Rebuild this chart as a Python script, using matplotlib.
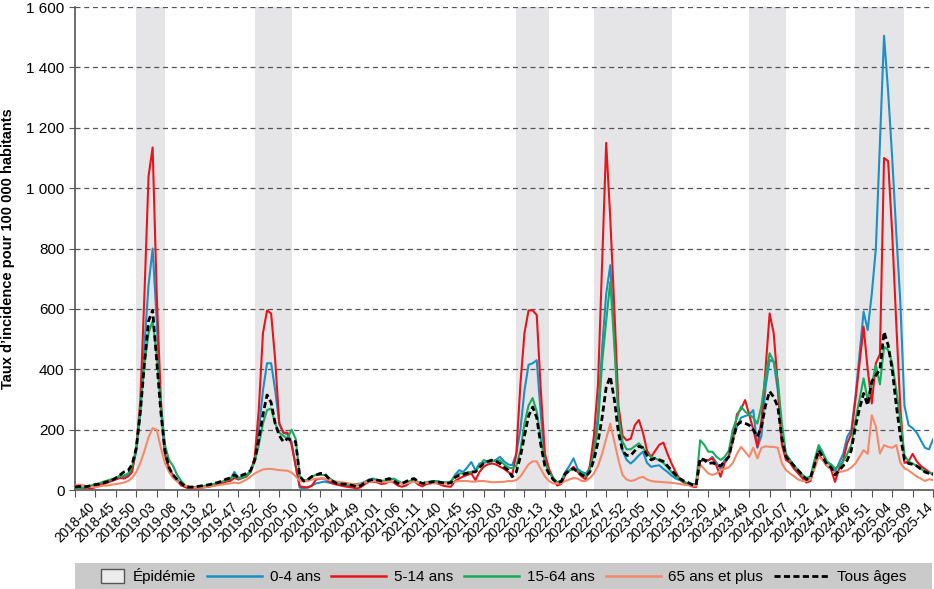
import matplotlib
matplotlib.use("Agg")
import matplotlib.pyplot as plt
from matplotlib.patches import Rectangle
from matplotlib.lines import Line2D
from matplotlib.legend_handler import HandlerPatch
from matplotlib.ticker import FuncFormatter

plt.rcParams['font.family'] = ['Liberation Sans Narrow', 'Liberation Sans', 'DejaVu Sans']

# seasons: (first year, last week of that year, last week of next year)
seasons = [(2018, 52, 15), (2019, 52, 15), (2020, 53, 15), (2021, 52, 20),
           (2022, 52, 20), (2023, 52, 15), (2024, 52, 19)]

epidemics = [("2019-03", "2019-10"), ("2020-04", "2020-13"), ("2022-11", "2022-19"),
             ("2022-49", "2023-16"), ("2024-02", "2024-11"), ("2024-52", "2025-12")]

# incidence per 100 000, one line per season
age_0_4 = [
    8, 9, 8, 10, 12, 15, 18, 22, 28, 32, 40, 48, 42, 50, 70, 130, 260, 480, 680, 800, 560, 270, 120, 70, 50, 35, 20, 10,
    5, 5, 6, 8, 10, 12, 15, 20, 25, 30, 35, 60, 40, 45, 50, 65, 100, 200, 330, 420, 420, 330, 220, 190, 185, 160, 80, 8,
    6, 10, 15, 22, 25, 28, 25, 22, 20, 18, 16, 15, 18, 20, 22, 28, 35, 38, 32, 30, 30, 35, 38, 30, 22, 22, 30, 36, 25,
    22, 25, 28, 30, 28, 25, 25, 28, 50, 66, 60, 75, 93, 65, 88, 90, 93, 95, 100, 110, 95, 85, 82, 120, 200, 330, 415, 420, 430, 250, 100, 60, 40,
    25, 30, 60, 80, 105, 70, 60, 55, 70, 130, 250, 470, 650, 745, 500, 250, 130, 100, 88, 100, 115, 127, 90, 77, 80, 82, 70, 60, 48, 38, 33, 26, 20,
    20, 18, 95, 100, 98, 110, 90, 70, 100, 110, 180, 210, 240, 245, 250, 265, 140, 180, 340, 431, 425, 330, 160, 110, 95, 80, 65, 50,
    35, 40, 90, 140, 120, 90, 85, 60, 90, 120, 177, 199, 309, 450, 591, 530, 650, 800, 1150, 1505, 1320, 1100, 850, 620, 280, 215, 205, 190, 165, 140, 135, 168,
]
age_5_14 = [
    10, 8, 6, 8, 5, 10, 15, 20, 25, 30, 35, 40, 38, 45, 60, 140, 300, 650, 1040, 1135, 650, 300, 120, 70, 45, 30, 15, 10,
    5, 6, 6, 8, 10, 12, 15, 18, 22, 28, 30, 40, 35, 40, 45, 60, 110, 270, 520, 595, 585, 430, 220, 190, 190, 150, 80, 12,
    10, 8, 15, 35, 38, 38, 30, 22, 18, 15, 12, 10, 8, 5, 10, 20, 28, 28, 25, 20, 22, 30, 25, 15, 11, 15, 25, 30, 18,
    12, 20, 22, 25, 20, 15, 12, 11, 30, 38, 45, 50, 55, 33, 60, 77, 85, 88, 85, 77, 70, 60, 50, 120, 350, 520, 595, 595, 580, 330, 120, 70, 40,
    15, 20, 50, 65, 77, 60, 45, 35, 80, 180, 350, 750, 1150, 900, 600, 280, 180, 165, 170, 215, 232, 190, 130, 110, 130, 150, 157, 120, 88, 60, 35, 25, 20,
    12, 10, 95, 100, 99, 105, 80, 44, 90, 110, 165, 251, 268, 298, 250, 200, 143, 230, 400, 585, 519, 350, 150, 100, 90, 70, 55, 40,
    25, 30, 80, 116, 100, 80, 70, 27, 70, 100, 155, 187, 298, 420, 541, 400, 287, 420, 450, 1100, 1090, 850, 550, 270, 90, 95, 120, 95, 80, 70, 60, 50,
]
age_15_64 = [
    5, 8, 8, 10, 15, 20, 22, 28, 32, 36, 40, 45, 48, 55, 80, 140, 270, 420, 520, 560, 450, 280, 150, 100, 80, 50, 30, 15,
    8, 10, 10, 12, 15, 18, 20, 25, 28, 32, 38, 45, 38, 42, 48, 60, 95, 150, 220, 265, 270, 220, 190, 180, 170, 200, 170, 45,
    30, 35, 45, 50, 50, 50, 42, 32, 25, 22, 20, 18, 18, 15, 18, 25, 32, 35, 33, 30, 32, 36, 36, 30, 22, 24, 30, 36, 25,
    22, 26, 28, 30, 28, 26, 25, 28, 45, 55, 55, 58, 60, 62, 80, 99, 95, 95, 97, 99, 85, 75, 72, 80, 130, 220, 280, 305, 260, 170, 90, 60, 40,
    25, 30, 55, 65, 70, 65, 55, 45, 70, 120, 220, 420, 560, 690, 480, 240, 160, 135, 135, 145, 155, 140, 120, 110, 105, 98, 90, 75, 60, 45, 35, 28, 22,
    20, 18, 165, 150, 127, 127, 110, 100, 110, 130, 200, 240, 276, 260, 250, 240, 220, 280, 375, 453, 425, 364, 220, 120, 100, 80, 65, 50,
    40, 45, 100, 149, 125, 95, 85, 72, 80, 95, 120, 150, 232, 300, 370, 298, 350, 413, 350, 475, 464, 420, 330, 230, 115, 95, 88, 80, 70, 62, 57, 55,
]
age_65_plus = [
    15, 18, 16, 12, 10, 10, 12, 15, 15, 18, 20, 22, 25, 30, 40, 60, 90, 130, 175, 205, 200, 140, 90, 60, 40, 28, 20, 15,
    10, 8, 8, 8, 10, 12, 14, 16, 18, 20, 22, 25, 22, 28, 35, 45, 55, 62, 68, 70, 70, 68, 66, 65, 64, 58, 45, 30,
    28, 30, 35, 38, 38, 36, 34, 30, 28, 26, 24, 22, 20, 18, 20, 25, 28, 30, 28, 26, 26, 28, 28, 25, 22, 22, 25, 28, 24,
    22, 24, 24, 22, 22, 22, 22, 24, 28, 30, 30, 30, 28, 28, 30, 30, 28, 26, 26, 27, 27, 30, 30, 33, 45, 65, 85, 95, 95, 70, 45, 30, 22,
    22, 22, 30, 35, 40, 38, 30, 30, 40, 55, 80, 120, 170, 220, 160, 100, 50, 35, 30, 33, 40, 44, 35, 30, 28, 27, 26, 25, 24, 22, 20, 18, 16,
    15, 14, 85, 70, 55, 50, 55, 66, 70, 75, 90, 120, 143, 127, 110, 140, 105, 140, 145, 143, 143, 140, 88, 66, 55, 45, 35, 30,
    30, 35, 70, 110, 100, 80, 70, 55, 60, 62, 66, 75, 88, 110, 132, 120, 248, 210, 121, 149, 143, 140, 149, 90, 72, 65, 55, 45, 38, 30, 36, 33,
]
all_ages = [
    10, 12, 10, 12, 15, 18, 20, 24, 28, 32, 40, 50, 60, 65, 85, 140, 260, 420, 560, 596, 430, 260, 130, 75, 50, 35, 22, 12,
    10, 10, 12, 14, 16, 18, 22, 25, 30, 36, 40, 50, 42, 50, 55, 65, 100, 170, 250, 315, 290, 220, 180, 160, 170, 165, 160, 45,
    30, 35, 45, 50, 55, 55, 40, 30, 22, 20, 20, 18, 15, 11, 15, 25, 32, 35, 33, 30, 35, 38, 30, 22, 22, 28, 35, 38, 28,
    22, 24, 26, 28, 26, 24, 22, 24, 42, 49, 52, 56, 60, 60, 75, 88, 95, 99, 95, 88, 75, 66, 44, 60, 110, 180, 245, 275, 240, 150, 80, 55, 35,
    25, 28, 55, 65, 71, 60, 50, 45, 60, 100, 160, 240, 340, 376, 300, 190, 130, 115, 115, 130, 145, 140, 115, 100, 105, 100, 95, 80, 65, 50, 38, 30, 25,
    18, 16, 105, 100, 88, 90, 85, 80, 95, 110, 165, 215, 226, 221, 215, 200, 177, 210, 280, 327, 308, 276, 170, 110, 95, 80, 65, 50,
    35, 40, 85, 132, 110, 85, 75, 50, 65, 80, 99, 132, 210, 270, 320, 281, 360, 380, 400, 524, 480, 400, 280, 180, 100, 88, 85, 80, 70, 60, 55, 53,
]

series = [
    ("0-4 ans", age_0_4, "#1b8fc6"),
    ("5-14 ans", age_5_14, "#e8141c"),
    ("15-64 ans", age_15_64, "#18ab5c"),
    ("65 ans et plus", age_65_plus, "#f5896a"),
]

weeks = []
for year, last, end in seasons:
    weeks += [f"{year}-{w:02d}" for w in range(40, last + 1)]
    weeks += [f"{year + 1}-{w:02d}" for w in range(1, end + 1)]
x = list(range(len(weeks)))

fig = plt.figure(figsize=(9.34, 5.89), dpi=100)
ax = fig.add_axes([0.0803, 0.168, 0.9187, 0.820])

for start, end in epidemics:
    ax.axvspan(weeks.index(start), weeks.index(end), color="#e5e5e7", lw=0, zorder=0)

for label, vals, col in series:
    ax.plot(x, vals, color=col, lw=1.5, label=label, zorder=3)
ax.plot(x, all_ages, color="black", lw=2.0, linestyle=(0, (2.2, 1.2)), label="Tous âges", zorder=4)

ax.set_xlim(0, len(weeks) - 1)
ax.set_ylim(0, 1600)
ax.set_yticks(range(0, 1601, 200))
ax.yaxis.set_major_formatter(FuncFormatter(lambda v, _: f"{int(v):,}".replace(",", " ")))
ax.grid(axis="y", color="#555555", lw=0.9, linestyle=(0, (4, 3)))
ax.set_axisbelow(True)

ticks = list(range(0, len(weeks), 5))
ax.set_xticks(ticks)
ax.set_xticklabels([weeks[t] if t <= 205 else "" for t in ticks], rotation=45, ha="center",
                   fontsize=9.8)
ax.tick_params(axis="x", length=5, color="#555555", pad=2)
ax.tick_params(axis="y", length=4, color="#555555", labelsize=11)

for s in ["top", "right"]:
    ax.spines[s].set_visible(False)
for s in ["left", "bottom"]:
    ax.spines[s].set_color("#555555")
    ax.spines[s].set_linewidth(1.2)

ax.set_ylabel("Taux d’incidence pour 100 000 habitants", fontsize=10.5, fontweight="bold", labelpad=8)

# legend band
fig.patches.append(Rectangle((75 / 934, 0), 857 / 934, 26 / 589, transform=fig.transFigure,
                             facecolor="#cacaca", edgecolor="none", zorder=0))


def small_box(legend, orig_handle, xdescent, ydescent, width, height, fontsize):
    return Rectangle((-xdescent + width - 17, -ydescent + (height - 10) / 2), 16, 10)


handles = [Rectangle((0, 0), 1, 1, facecolor="#ececec", edgecolor="#555555", lw=1.0)]
handles += [Line2D([], [], color=c, lw=1.8) for _, _, c in series]
handles += [Line2D([], [], color="black", lw=2.0, linestyle=(0, (2.2, 1.2)))]
labels = ["Épidémie"] + [n for n, _, _ in series] + ["Tous âges"]
fig.legend(handles, labels, loc="center", bbox_to_anchor=(70 / 934, 0, 836 / 934, 26 / 589),
           mode="expand", ncol=6, frameon=False, fontsize=11, handlelength=3.6,
           handletextpad=0.5, borderaxespad=0, borderpad=0,
           handler_map={Rectangle: HandlerPatch(patch_func=small_box)})

fig.savefig("out.png", dpi=100)
